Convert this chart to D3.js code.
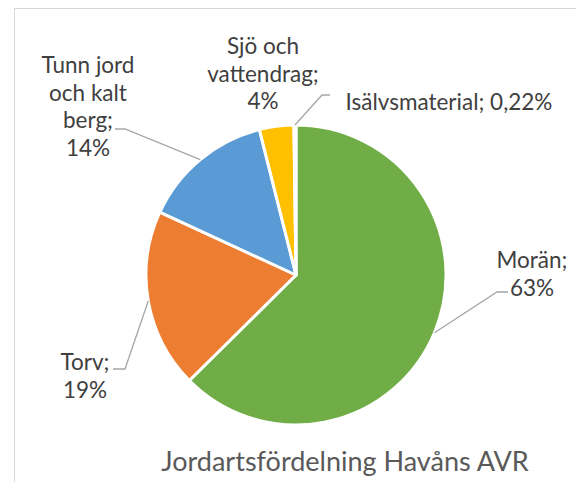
<!DOCTYPE html>
<html>
<head>
<meta charset="utf-8">
<script src="https://cdn.jsdelivr.net/npm/d3@7"></script>
<style>
  body { margin: 0; background: #fff; }
  svg text { font-family: Lato, "Open Sans", sans-serif; }
</style>
</head>
<body>
<svg id="chart" width="576" height="482"></svg>
<script>
// data
var categories = ["Morän", "Torv", "Tunn jord och kalt berg", "Sjö och vattendrag", "Isälvsmaterial"];
var values = [62.6, 19.3, 14.2, 3.7, 0.22];
var pctLabels = ["63%", "19%", "14%", "4%", "0,22%"];
var colors = ["#70AD47", "#ED7D31", "#5B9BD5", "#FFC000", "#A5A5A5"];

var svg = d3.select("#chart");

// outer frame (cut off at right/bottom like the original)
svg.append("rect")
    .attr("x", 14.5).attr("y", 8.5)
    .attr("width", 600).attr("height", 500)
    .attr("fill", "none")
    .attr("stroke", "#d9d9d9")
    .attr("stroke-width", 1);

var cx = 296, cy = 275, r = 150;

var pie = d3.pie().sort(null).value(function(d){ return d; });
var arcs = pie(values);
var arc = d3.arc().innerRadius(0).outerRadius(r);

var g = svg.append("g").attr("transform", "translate(" + cx + "," + cy + ")");

g.selectAll("path.slice")
    .data(arcs)
    .enter().append("path")
    .attr("class", "slice")
    .attr("d", arc)
    .attr("fill", function(d, i){ return colors[i]; })
    .attr("stroke", "#fff")
    .attr("stroke-width", 3)
    .attr("stroke-linejoin", "round");

// label layout: lines of text, anchor (centre x, first baseline), leader elbow
var labelLayout = [
  {lines: ["Morän;", "63%"], x: 532, y: 268, elbow: [[497, 292], [508, 292]]},
  {lines: ["Torv;", "19%"], x: 85, y: 370, elbow: [[125, 369], [113, 369]]},
  {lines: ["Tunn jord", "och kalt", "berg;", "14%"], x: 88, y: 73, elbow: [[125, 129], [115, 129]]},
  {lines: ["Sjö och", "vattendrag;", "4%"], x: 263, y: 54, elbow: null},
  {lines: ["Isälvsmaterial; 0,22%"], x: 449, y: 110, elbow: [[322, 95], [330, 95]]}
];
var lineH = 27.5;

function edgePoint(d){
  var a = (d.startAngle + d.endAngle) / 2;
  return [cx + Math.sin(a) * r, cy - Math.cos(a) * r];
}

arcs.forEach(function(d, i){
  var L = labelLayout[i];
  if (L.elbow) {
    var pts = [edgePoint(d)].concat(L.elbow);
    svg.append("path")
      .attr("d", d3.line()(pts))
      .attr("fill", "none")
      .attr("stroke", "#a6a6a6")
      .attr("stroke-width", 1.3);
  }
  var t = svg.append("text")
    .attr("text-anchor", "middle")
    .attr("fill", "#404040")
    .attr("font-size", 22.5);
  L.lines.forEach(function(s, k){
    t.append("tspan").attr("x", L.x).attr("y", L.y + k * lineH).text(s);
  });
});

svg.append("text")
  .attr("x", 345).attr("y", 471)
  .attr("text-anchor", "middle")
  .attr("fill", "#595959")
  .attr("font-size", 27)
  .text("Jordartsfördelning Havåns AVR");
</script>
</body>
</html>
